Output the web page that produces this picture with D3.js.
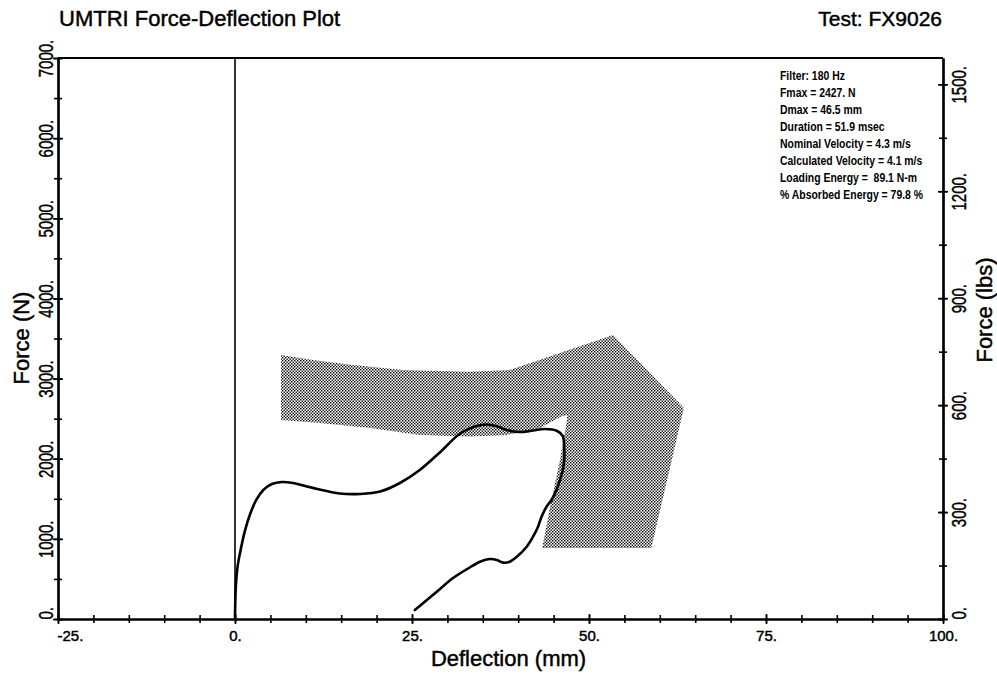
<!DOCTYPE html>
<html>
<head>
<meta charset="utf-8">
<script src="https://cdn.jsdelivr.net/npm/d3@7"></script>
<style>
  html, body { margin: 0; padding: 0; background: #fff; }
  svg { display: block; font-family: "Liberation Sans", Arial, Helvetica, sans-serif; }
  .heavy { stroke: #000; stroke-width: 0.45px; }
</style>
</head>
<body>
<svg id="chart" width="997" height="677"></svg>
<script>
// Force-deflection trace (loading then unloading), deflection in mm, force in N
const deflection = [0, 0.05, 0.15, 0.4, 0.85, 1.4, 2.1, 3.0, 4.0, 5.2, 6.6, 8.2, 9.9, 11.6, 14.8, 17.7, 20.5, 23.3, 26.1, 29.0, 31.8, 34.0, 35.5, 37.0, 38.4, 40.2, 42.1, 43.8, 45.5, 46.3, 46.5, 46.5, 46.3, 45.9, 45.4, 44.7, 44.0, 43.3, 42.8, 42.1, 41.2, 39.8, 38.8, 37.9, 37.0, 36.0, 34.6, 32.8, 30.8, 28.5, 27.1, 25.4];
const force = [0, 240, 450, 675, 885, 1100, 1300, 1485, 1610, 1685, 1710, 1697, 1660, 1622, 1566, 1560, 1591, 1697, 1859, 2084, 2315, 2405, 2427, 2405, 2358, 2333, 2352, 2371, 2346, 2283, 2120, 1984, 1859, 1734, 1610, 1485, 1401, 1277, 1152, 1027, 902, 777, 715, 703, 736, 749, 715, 624, 512, 341, 237, 112];

// Response corridor outline (mm, N)
const corridorDefl = [6.5, 11.0, 16.7, 23.7, 33.2, 38.8, 53.4, 63.4, 58.8, 43.4, 44.5, 45.9, 46.9, 46.9, 45.9, 43.1, 38.4, 33.2, 26.1, 19.1, 12.0, 6.5];
const corridorForce = [3294, 3232, 3169, 3107, 3086, 3107, 3544, 2633, 886, 886, 1398, 1984, 2483, 2545, 2521, 2383, 2296, 2277, 2296, 2383, 2446, 2483];

// Axis ticks
const xMajor = [-25, 0, 25, 50, 75, 100];
const xMinor = d3.range(-25, 100.1, 5);
const yMajor = [0, 1000, 2000, 3000, 4000, 5000, 6000, 7000];
const yMinor = d3.range(0, 7000.1, 500);
const lbsMajor = [0, 300, 600, 900, 1200, 1500];
const lbsMinor = d3.range(0, 1501, 150);

// Test summary
const summaryLines = [
  "Filter: 180 Hz",
  "Fmax = 2427. N",
  "Dmax = 46.5 mm",
  "Duration = 51.9 msec",
  "Nominal Velocity = 4.3 m/s",
  "Calculated Velocity = 4.1 m/s",
  "Loading Energy =  89.1 N-m",
  "% Absorbed Energy = 79.8 %"
];

const N_PER_LB = 4.448;

const svg = d3.select("#chart");
const plotLeft = 58, plotRight = 943, plotTop = 58, plotBottom = 619;

const x = d3.scaleLinear().domain([-25, 100]).range([plotLeft, plotRight]);
const y = d3.scaleLinear().domain([0, 7000]).range([plotBottom, plotTop]);
const yLbs = d3.scaleLinear().domain([0, 7000 / N_PER_LB]).range([plotBottom, plotTop]);

// stipple fill for the corridor
const defs = svg.append("defs");
const pat = defs.append("pattern").attr("id", "stipple")
  .attr("width", 3).attr("height", 3).attr("patternUnits", "userSpaceOnUse");
pat.append("rect").attr("width", 3).attr("height", 3).attr("fill", "#fff");
pat.append("rect").attr("x", 0).attr("y", 0).attr("width", 1.4).attr("height", 1.4).attr("fill", "#000");
pat.append("rect").attr("x", 1.5).attr("y", 1.5).attr("width", 1.4).attr("height", 1.4).attr("fill", "#000");

// corridor
const corridor = corridorDefl.map((d, i) => [d, corridorForce[i]]);
svg.append("path")
  .attr("d", d3.line().x(d => x(d[0])).y(d => y(d[1]))(corridor) + "Z")
  .attr("fill", "url(#stipple)")
  .attr("stroke", "none");

// zero-deflection reference line
svg.append("line")
  .attr("x1", x(0)).attr("x2", x(0)).attr("y1", plotTop).attr("y2", plotBottom)
  .attr("stroke", "#000").attr("stroke-width", 1.6);

// top frame edge
svg.append("line")
  .attr("x1", plotLeft).attr("x2", plotRight).attr("y1", plotTop).attr("y2", plotTop)
  .attr("stroke", "#000").attr("stroke-width", 2.2);

function crossTicks(g, horizontal, major) {
  const s = major ? 5 : 4;
  g.selectAll(".tick line")
    .attr(horizontal ? "y1" : "x1", -s)
    .attr(horizontal ? "y2" : "x2", s)
    .attr("stroke", "#000").attr("stroke-width", 1.6);
  g.select(".domain").attr("stroke", "#000").attr("stroke-width", 2.2);
}

// bottom axis
const gxMinor = svg.append("g").attr("transform", `translate(0,${plotBottom})`)
  .call(d3.axisBottom(x).tickValues(xMinor).tickFormat("").tickSizeOuter(0));
crossTicks(gxMinor, true, false);
const gx = svg.append("g").attr("transform", `translate(0,${plotBottom})`)
  .call(d3.axisBottom(x).tickValues(xMajor).tickFormat(d => d + ".").tickSizeOuter(0));
crossTicks(gx, true, true);
gx.selectAll(".tick text")
  .attr("class", "heavy")
  .attr("y", 22).attr("dy", null)
  .attr("font-size", 15).attr("fill", "#000")
  .attr("font-family", "Liberation Sans, Arial, sans-serif")
  .attr("text-anchor", d => d === -25 ? "start" : "middle")
  .attr("x", d => d === -25 ? -1 : 0);

// left axis
const gyMinor = svg.append("g").attr("transform", `translate(${plotLeft},0)`)
  .call(d3.axisLeft(y).tickValues(yMinor).tickFormat("").tickSizeOuter(0));
crossTicks(gyMinor, false, false);
const gy = svg.append("g").attr("transform", `translate(${plotLeft},0)`)
  .call(d3.axisLeft(y).tickValues(yMajor).tickFormat(d => d + ".").tickSizeOuter(0));
crossTicks(gy, false, true);
gy.selectAll(".tick text")
  .attr("class", "heavy")
  .attr("x", null).attr("dy", null)
  .attr("font-size", 20).attr("fill", "#000")
  .attr("font-family", "Liberation Sans, Arial, sans-serif")
  .attr("text-anchor", d => d === 0 ? "start" : "middle")
  .attr("transform", "translate(-5,0) rotate(-90) scale(0.75,1)");

// right axis (pounds)
const grMinor = svg.append("g").attr("transform", `translate(${plotRight},0)`)
  .call(d3.axisRight(yLbs).tickValues(lbsMinor).tickFormat("").tickSizeOuter(0));
crossTicks(grMinor, false, false);
const gr = svg.append("g").attr("transform", `translate(${plotRight},0)`)
  .call(d3.axisRight(yLbs).tickValues(lbsMajor).tickFormat(d => d + ".").tickSizeOuter(0));
crossTicks(gr, false, true);
gr.selectAll(".tick text")
  .attr("class", "heavy")
  .attr("x", null).attr("dy", null)
  .attr("font-size", 20).attr("fill", "#000")
  .attr("font-family", "Liberation Sans, Arial, sans-serif")
  .attr("text-anchor", d => d === 0 ? "start" : "middle")
  .attr("transform", "translate(23,0) rotate(-90) scale(0.75,1)");

// force-deflection trace
const trace = deflection.map((d, i) => [d, force[i]]);
svg.append("path")
  .attr("d", d3.line().curve(d3.curveCatmullRom.alpha(0.5)).x(d => x(d[0])).y(d => y(d[1]))(trace))
  .attr("fill", "none").attr("stroke", "#000").attr("stroke-width", 2.6)
  .attr("stroke-linejoin", "round").attr("stroke-linecap", "round");

// titles
svg.append("text").attr("class", "heavy").attr("x", 59).attr("y", 26).attr("font-size", 22)
  .text("UMTRI Force-Deflection Plot");
svg.append("text").attr("class", "heavy").attr("x", 942).attr("y", 26).attr("font-size", 21)
  .attr("text-anchor", "end").text("Test: FX9026");

svg.append("text").attr("class", "heavy").attr("x", (plotLeft + plotRight) / 2 + 8).attr("y", 666).attr("font-size", 22)
  .attr("text-anchor", "middle").text("Deflection (mm)");
svg.append("text").attr("class", "heavy").attr("transform", `translate(29,338) rotate(-90)`).attr("font-size", 22)
  .attr("text-anchor", "middle").text("Force (N)");
svg.append("text").attr("class", "heavy").attr("transform", `translate(992,310) rotate(-90)`).attr("font-size", 22)
  .attr("text-anchor", "middle").text("Force (lbs)");

// summary block
const summary = svg.append("g").attr("transform", "translate(780,0)");
summary.selectAll("text").data(summaryLines).join("text")
  .attr("transform", (d, i) => `translate(0,${80 + i * 17}) scale(0.87,1)`)
  .attr("font-size", 12).attr("font-weight", "bold")
  .style("white-space", "pre")
  .text(d => d);
</script>
</body>
</html>
